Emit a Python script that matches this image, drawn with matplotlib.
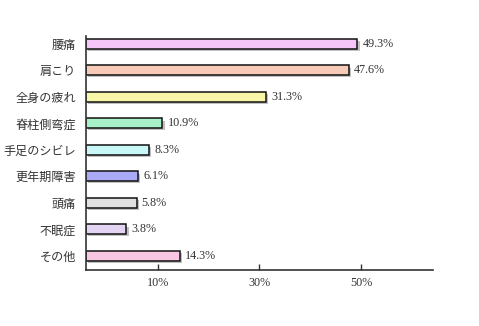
import matplotlib
matplotlib.use("Agg")
import matplotlib.pyplot as plt
import matplotlib.patheffects as pe

# 症状ごとの割合 (%)
labels = ["腰痛", "肩こり", "全身の疲れ", "脊柱側弯症", "手足のシビレ",
          "更年期障害", "頭痛", "不眠症", "その他"]
values = [49.3, 47.6, 31.3, 10.9, 8.3, 6.1, 5.8, 3.8, 14.3]
colors = ["#f6c6f8", "#f8cab8", "#f8f6a8", "#a8f0c8", "#c8f8f8",
          "#aaaaf6", "#e0e0e0", "#e2d4f2", "#f8c6e2"]
xticks = [10, 30, 50]
xticklabels = ["10%", "30%", "50%"]

x0 = -4.2  # 軸の左端

fig = plt.figure(figsize=(4.79, 3.26), dpi=100)
ax = fig.add_axes([0.179, 0.172, 0.725, 0.718])

y = range(len(labels))
shadow = [pe.SimplePatchShadow(offset=(1.6, -1.6), shadow_rgbFace="#666666", alpha=0.4),
          pe.Normal()]
bars = ax.barh(y, [v - x0 for v in values], left=x0, height=0.37,
               color=colors, edgecolor="#111111", linewidth=1.1)
for b in bars:
    b.set_path_effects(shadow)

for i, v in enumerate(values):
    ax.text(v + 1.0, i, f"{v}%", va="center", ha="left", fontsize=8.7,
            family=["Liberation Serif", "DejaVu Serif"], color="#333333")

ax.set_xlim(x0, 64.2)
ax.set_ylim(8.53, -0.3)
ax.set_yticks(list(y))
ax.set_yticklabels(labels, family=["Noto Sans CJK JP", "DejaVu Sans"],
                   fontsize=8.7, color="#333333")
ax.tick_params(axis="y", length=0, pad=7)
ax.set_xticks(xticks)
ax.set_xticklabels(xticklabels, family=["Liberation Serif", "DejaVu Serif"],
                   fontsize=8.7, color="#333333")
ax.tick_params(axis="x", direction="in", length=4, width=1, color="#333333", pad=5)

for s in ["top", "right"]:
    ax.spines[s].set_visible(False)
for s in ["left", "bottom"]:
    ax.spines[s].set_color("#333333")
    ax.spines[s].set_linewidth(1.2)

fig.savefig("out.png", dpi=100)
